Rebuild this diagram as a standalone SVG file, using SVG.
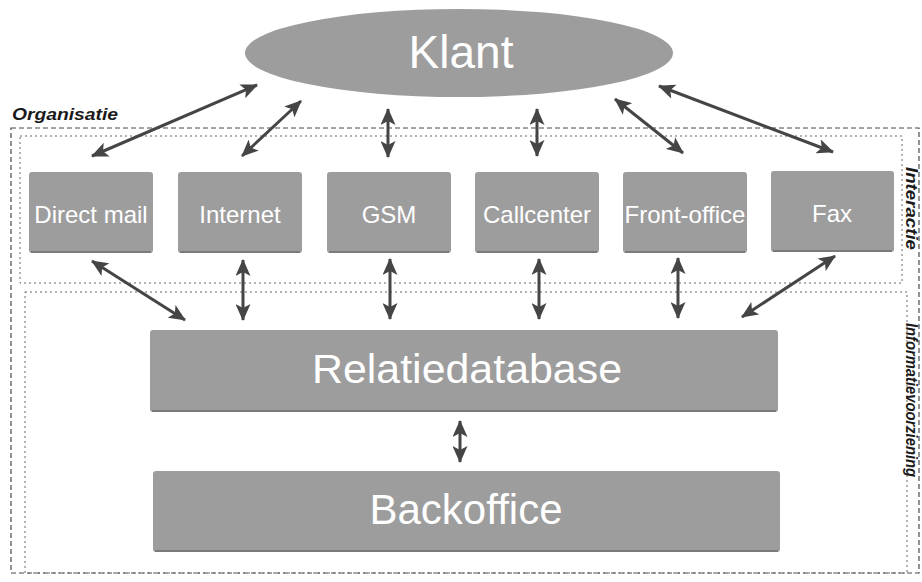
<svg xmlns="http://www.w3.org/2000/svg" width="922" height="582" viewBox="0 0 922 582">
  <defs>
    <style>
      .bg { fill: #ffffff; }
      .node { fill: #9d9d9d; }
      .node-edge { fill: none; stroke: #7a7a7a; stroke-width: 2; }
      .edge { fill: none; stroke: #454545; stroke-width: 3; marker-start: url(#head); marker-end: url(#head); }
      .zone-outer { fill: none; stroke: #4a4a4a; stroke-width: 1.2; stroke-dasharray: 5 3; }
      .zone-inner { fill: none; stroke: #666666; stroke-width: 1; stroke-dasharray: 2 3; }
      .lbl { fill: #ffffff; font-family: "Liberation Sans", Arial, sans-serif; text-anchor: middle; }
      .zone-lbl { fill: #1a1a1a; font-family: "Liberation Sans", Arial, sans-serif; font-style: italic; font-weight: bold; }
    </style>
    <marker id="head" viewBox="0 0 17 15" refX="16" refY="7.5" markerWidth="17" markerHeight="15" markerUnits="userSpaceOnUse" orient="auto-start-reverse">
      <path d="M0,0 L17,7.5 L0,15 L4,7.5 Z" fill="#454545"/>
    </marker>
  </defs>

  <rect class="bg" x="0" y="0" width="922" height="582"/>

  <!-- zones -->
  <g id="zones">
    <rect id="zone-organisatie" class="zone-outer" x="11" y="128" width="908" height="445"/>
    <rect id="zone-interactie" class="zone-inner" x="20" y="136" width="882" height="147"/>
    <rect id="zone-informatie" class="zone-inner" x="25" y="292" width="882" height="281"/>
    <text class="zone-lbl" x="12" y="120" font-size="16" textLength="106" lengthAdjust="spacingAndGlyphs">Organisatie</text>
    <text class="zone-lbl" font-size="17" textLength="83" lengthAdjust="spacingAndGlyphs" transform="translate(906,167) rotate(90)">Interactie</text>
    <text class="zone-lbl" font-size="16" textLength="154" lengthAdjust="spacingAndGlyphs" transform="translate(906,323) rotate(90)">Informatievoorziening</text>
  </g>

  <!-- connectors -->
  <g id="connectors">
    <line class="edge" x1="257" y1="85" x2="92" y2="156"/>
    <line class="edge" x1="301" y1="101" x2="242" y2="156"/>
    <line class="edge" x1="388" y1="109" x2="388" y2="157"/>
    <line class="edge" x1="537" y1="109" x2="537" y2="156"/>
    <line class="edge" x1="615" y1="99" x2="683" y2="153"/>
    <line class="edge" x1="659" y1="86" x2="833" y2="152"/>

    <line class="edge" x1="92" y1="261" x2="185" y2="320"/>
    <line class="edge" x1="243" y1="260" x2="243" y2="320"/>
    <line class="edge" x1="390" y1="259" x2="390" y2="319"/>
    <line class="edge" x1="539" y1="259" x2="539" y2="319"/>
    <line class="edge" x1="678" y1="258" x2="678" y2="318"/>
    <line class="edge" x1="835" y1="256" x2="742" y2="317"/>

    <line class="edge" x1="460" y1="421" x2="460" y2="462"/>
  </g>

  <!-- nodes -->
  <g id="klant">
    <ellipse class="node" cx="459" cy="53" rx="214" ry="44"/>
    <text class="lbl" x="461" y="68" font-size="46">Klant</text>
  </g>

  <g id="direct-mail">
    <rect class="node" x="29" y="172" width="124" height="81" rx="3"/>
    <line class="node-edge" x1="31" y1="252" x2="151" y2="252"/>
    <text class="lbl" x="91" y="223" font-size="24">Direct mail</text>
  </g>
  <g id="internet">
    <rect class="node" x="178" y="172" width="124" height="81" rx="3"/>
    <line class="node-edge" x1="180" y1="252" x2="300" y2="252"/>
    <text class="lbl" x="240" y="223" font-size="24">Internet</text>
  </g>
  <g id="gsm">
    <rect class="node" x="327" y="172" width="124" height="81" rx="3"/>
    <line class="node-edge" x1="329" y1="252" x2="449" y2="252"/>
    <text class="lbl" x="389" y="223" font-size="24">GSM</text>
  </g>
  <g id="callcenter">
    <rect class="node" x="475" y="172" width="124" height="81" rx="3"/>
    <line class="node-edge" x1="477" y1="252" x2="597" y2="252"/>
    <text class="lbl" x="537" y="223" font-size="24">Callcenter</text>
  </g>
  <g id="front-office">
    <rect class="node" x="623" y="172" width="124" height="81" rx="3"/>
    <line class="node-edge" x1="625" y1="252" x2="745" y2="252"/>
    <text class="lbl" x="685" y="223" font-size="24">Front-office</text>
  </g>
  <g id="fax">
    <rect class="node" x="771" y="171" width="123" height="81" rx="3"/>
    <line class="node-edge" x1="773" y1="251" x2="892" y2="251"/>
    <text class="lbl" x="832" y="222" font-size="24">Fax</text>
  </g>

  <g id="relatiedatabase">
    <rect class="node" x="150" y="330" width="628" height="82" rx="3"/>
    <line class="node-edge" x1="152" y1="411" x2="776" y2="411"/>
    <text class="lbl" x="467" y="383" font-size="41" textLength="310" lengthAdjust="spacingAndGlyphs">Relatiedatabase</text>
  </g>

  <g id="backoffice">
    <rect class="node" x="153" y="471" width="627" height="81" rx="3"/>
    <line class="node-edge" x1="155" y1="551" x2="778" y2="551"/>
    <text class="lbl" x="466" y="524" font-size="42">Backoffice</text>
  </g>
</svg>
